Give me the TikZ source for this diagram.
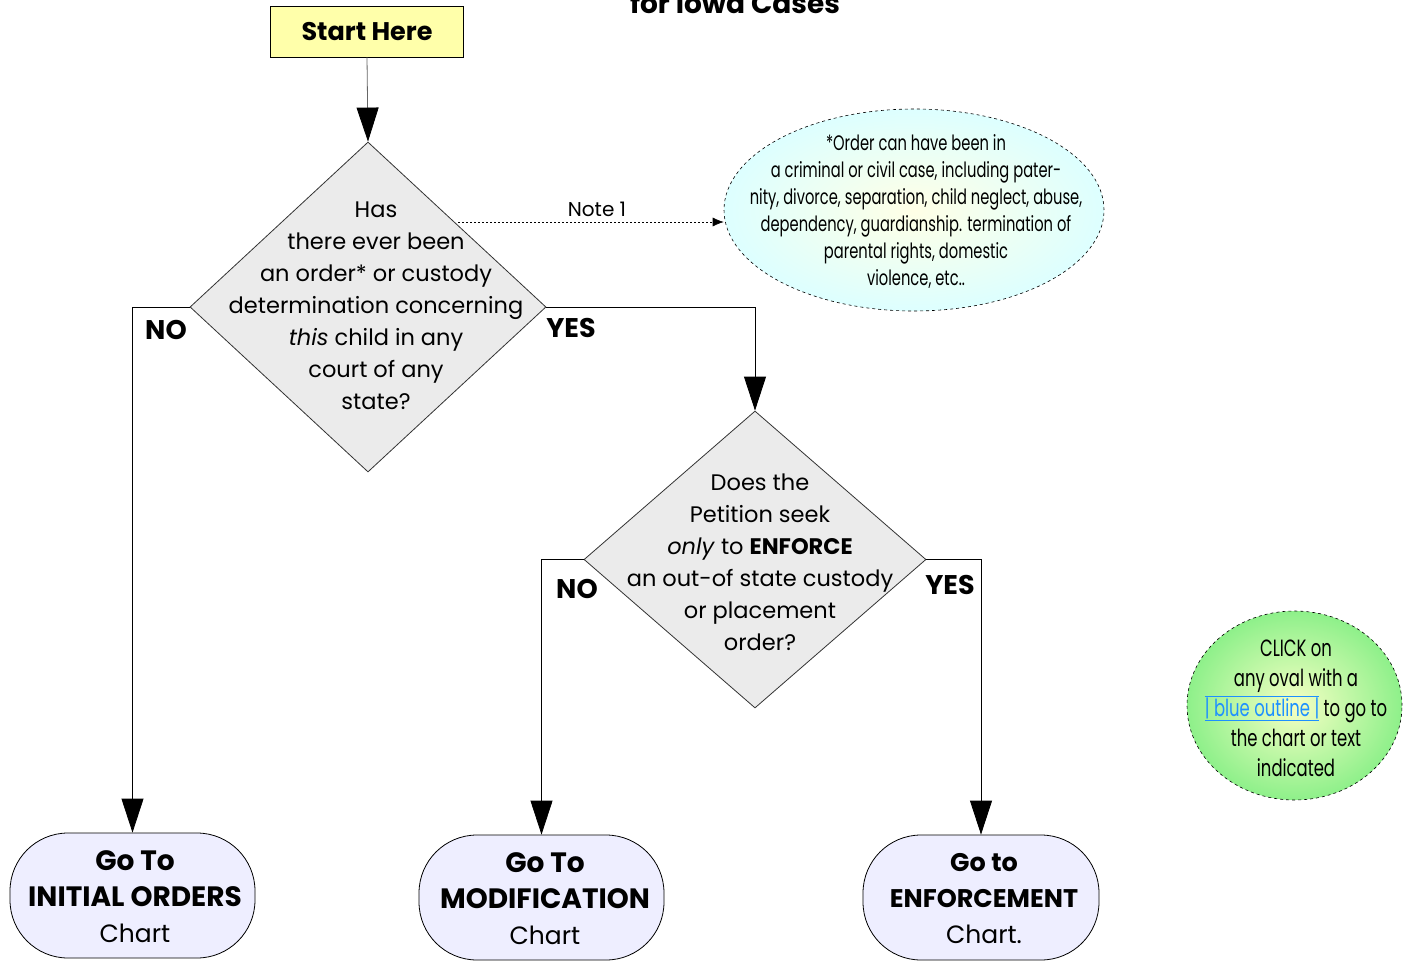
\documentclass[tikz,border=0pt]{standalone}
\usepackage{fontspec}
\setmainfont{Poppins}
\newfontfamily\cond[FakeStretch=0.7]{Poppins}
\usetikzlibrary{shapes.geometric,arrows.meta}
\definecolor{startyellow}{HTML}{FFFFAA}
\definecolor{diagray}{HTML}{EBEBEB}
\definecolor{termfill}{HTML}{EEEEFF}
\definecolor{cyanedge}{HTML}{DDFFFF}
\definecolor{cyancenter}{HTML}{FFFFE6}
\definecolor{greenedge}{HTML}{8EF08A}
\definecolor{greencenter}{HTML}{F6FFC4}
\definecolor{linkblue}{HTML}{1E90FF}
\tikzset{
  diabox/.style={draw=black!80, fill=diagray, shape=diamond, inner sep=0pt, line width=0.8pt},
  diatext/.style={align=center, font=\fontsize{22.5}{32}\selectfont},
  termbox/.style={draw=black, fill=termfill, rectangle, rounded corners=58pt, minimum width=245pt, minimum height=125pt, line width=0.8pt},
  termtext/.style={align=center, font=\fontsize{25}{36}\selectfont},
  flow/.style={line width=0.8pt, -{Triangle[length=34pt,width=22pt,color=black,fill=black]}},
  yesno/.style={font=\bfseries\fontsize{27}{30}\selectfont},
  bubble/.style={ellipse, draw=black, dashed, line width=0.6pt, inner sep=0pt},
}
\newcommand{\bigb}[1]{{\bfseries\fontsize{28}{36}\selectfont #1}}
\newcommand{\bigc}[1]{{\bfseries\fontsize{25.5}{36}\selectfont #1}}
\begin{document}
\begin{tikzpicture}[x=1pt,y=-1pt]
\useasboundingbox (0,0) rectangle (1410,961);
% title (mostly cut off, as in the reference)
\node[anchor=base, font=\bfseries\fontsize{28}{32}\selectfont, inner sep=0pt] (title) at (735,13) {for Iowa Cases};
% start
\node[draw=black, fill=startyellow, minimum width=193pt, minimum height=51pt, line width=0.8pt, font=\bfseries\fontsize{25.5}{28}\selectfont] (start) at (367,31.5) {Start Here};
% diamond 1
\node[diabox, minimum width=356pt, minimum height=330pt] (d1) at (368,307) {};
\node[diatext] (d1t) at (376,306) {Has\\there ever been\\an order* or custody\\determination concerning\\\textit{this} child in any\\court of any\\state?};
% diamond 2
\node[diabox, minimum width=342pt, minimum height=297pt] (d2) at (755,559.5) {};
\node[diatext] (d2t) at (760,562) {Does the\\Petition seek\\\textit{only} to \textbf{ENFORCE}\\an out-of state custody\\or placement\\order?};
% terminals
\node[termbox] (n1) at (132.5,895.5) {};
\node[termtext] (n1t) at (135,897) {\bigb{Go To}\\\bigb{INITIAL ORDERS}\\Chart};
\node[termbox] (n2) at (541.5,897.5) {};
\node[termtext] (n2t) at (545,899) {\bigb{Go To}\\\bigb{MODIFICATION}\\Chart};
\node[termbox, minimum width=236pt] (n3) at (981,897.5) {};
\node[termtext] (n3t) at (984,899) {\bigc{Go to}\\\bigc{ENFORCEMENT}\\Chart.};
% note ellipse
\node[bubble, minimum width=380pt, minimum height=202pt, shading=radial, inner color=cyancenter, outer color=cyanedge] (e1) at (914,210) {};
\node[align=center, font=\cond\fontsize{21}{27}\selectfont] (e1t) at (916,212) {*Order can have been in\\a criminal or civil case, including pater-\\nity, divorce, separation, child neglect, abuse,\\dependency, guardianship. termination of\\parental rights, domestic\\violence, etc..};
% click ellipse
\node[bubble, minimum width=215pt, minimum height=189pt, shading=radial, inner color=greencenter, outer color=greenedge] (e2) at (1294.5,705.5) {};
\node[align=center, font=\cond\fontsize{23.5}{30}\selectfont] (e2t) at (1296,708) {CLICK on\\any oval with a\\{\color{linkblue}$\overline{\underline{\hbox{| blue outline |}}}$} to go to\\the chart or text\\indicated};
% connectors
\draw[flow, draw=black!60] (start.south) -- (d1.north);
\draw[flow] (d1.west) -| (n1.north);
\draw[flow] (d1.east) -| (d2.north);
\draw[flow] (d2.west) -| (n2.north);
\draw[flow] (d2.east) -| (n3.north);
\coordinate (ns) at (458,222);
\draw[line width=0.6pt, dash pattern=on 2pt off 2pt, -{Latex[length=11pt,width=9pt]}] (ns) -- (e1.west |- ns);
\node[font=\fontsize{20}{22}\selectfont, inner sep=0pt, anchor=base] (notelbl) at (597,216) {Note 1};
% labels
\node[yesno] (no1) at (166,330) {NO};
\node[yesno] (yes1) at (571,328) {YES};
\node[yesno] (no2) at (577,589) {NO};
\node[yesno] (yes2) at (950,585) {YES};
\end{tikzpicture}
\end{document}
